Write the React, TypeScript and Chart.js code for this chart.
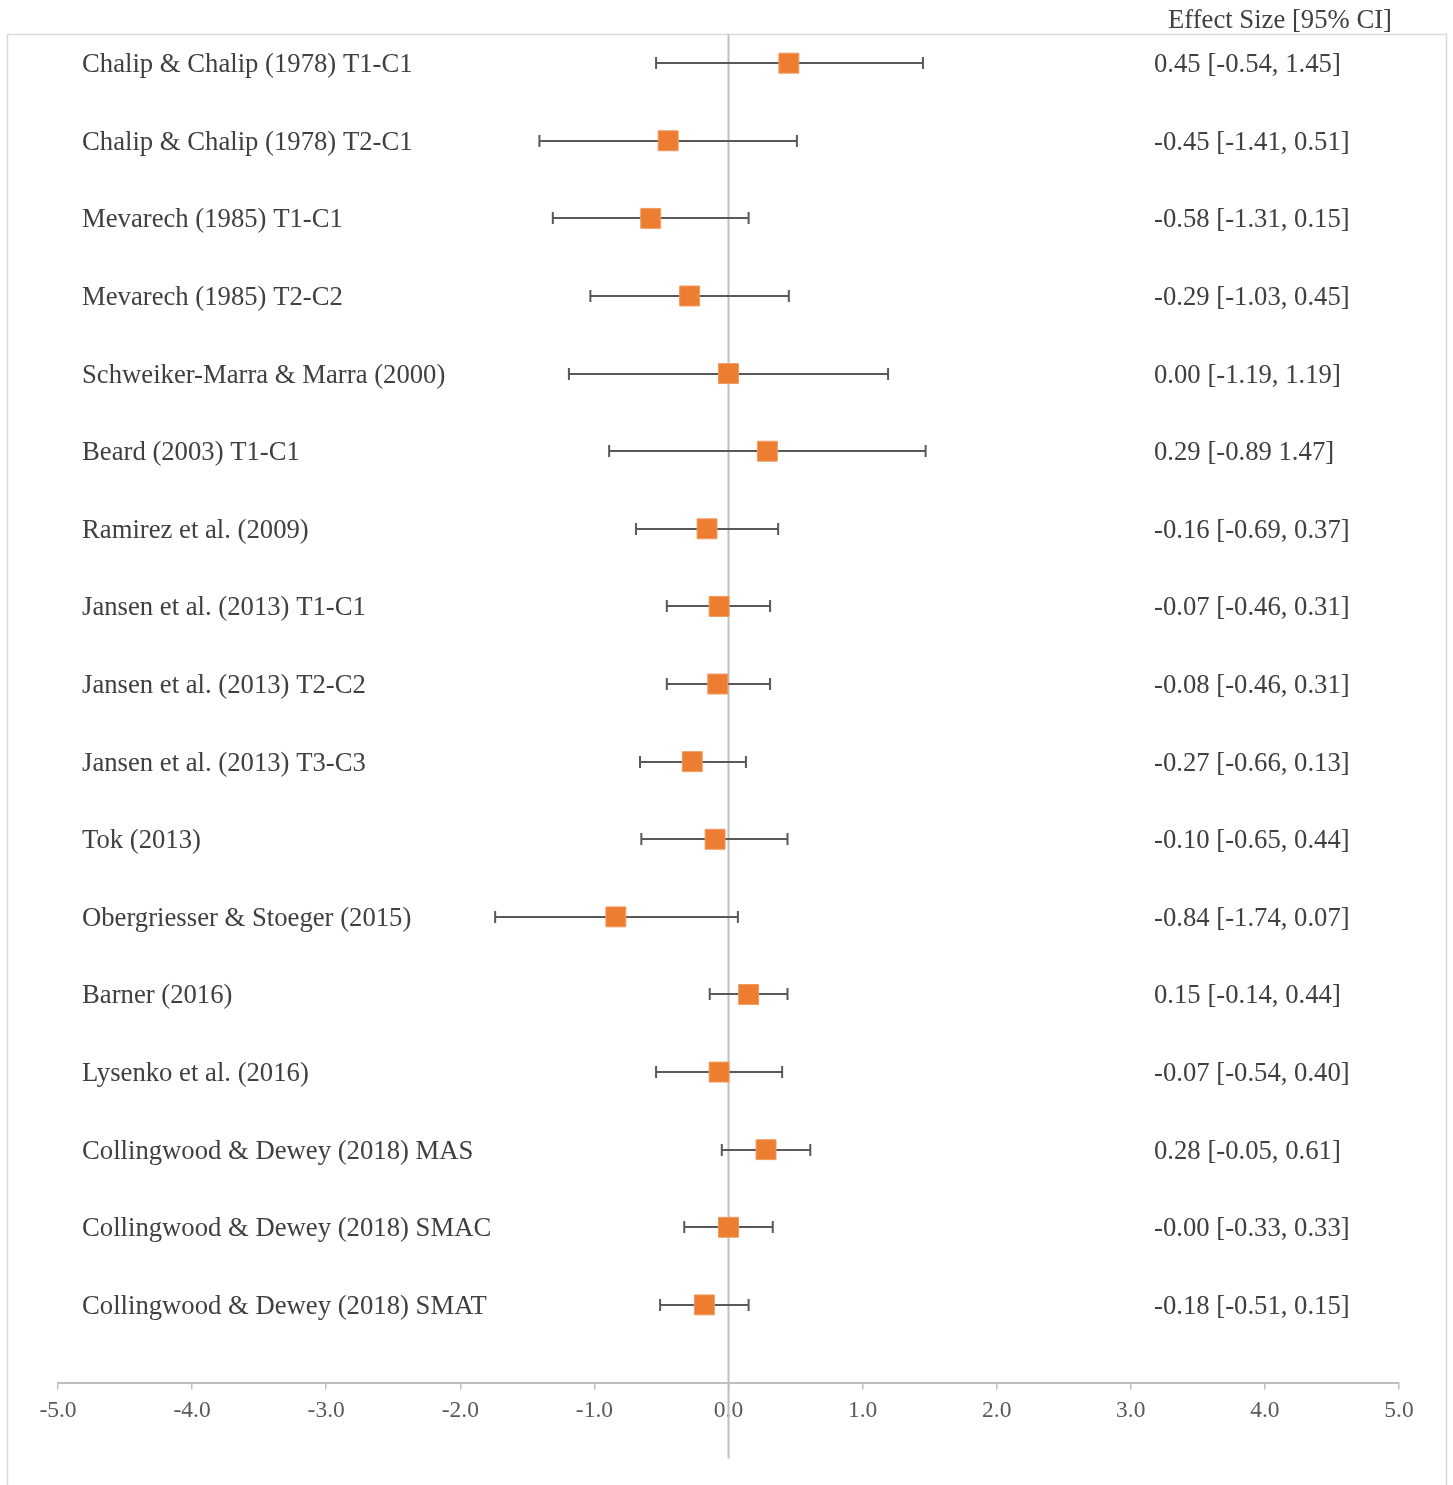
import React, { useEffect, useRef } from "react";
import { Chart, registerables } from "chart.js";

Chart.register(...registerables);

const studies: string[] = [
  "Chalip & Chalip (1978) T1-C1",
  "Chalip & Chalip (1978) T2-C1",
  "Mevarech (1985) T1-C1",
  "Mevarech (1985) T2-C2",
  "Schweiker-Marra & Marra (2000)",
  "Beard (2003) T1-C1",
  "Ramirez et al. (2009)",
  "Jansen et al. (2013) T1-C1",
  "Jansen et al. (2013) T2-C2",
  "Jansen et al. (2013) T3-C3",
  "Tok (2013)",
  "Obergriesser & Stoeger (2015)",
  "Barner (2016)",
  "Lysenko et al. (2016)",
  "Collingwood & Dewey (2018) MAS",
  "Collingwood & Dewey (2018) SMAC",
  "Collingwood & Dewey (2018) SMAT",
];

const effects: number[] = [0.45, -0.45, -0.58, -0.29, 0.0, 0.29, -0.16, -0.07, -0.08, -0.27, -0.1, -0.84, 0.15, -0.07, 0.28, -0.0, -0.18];
const lower: number[] = [-0.54, -1.41, -1.31, -1.03, -1.19, -0.89, -0.69, -0.46, -0.46, -0.66, -0.65, -1.74, -0.14, -0.54, -0.05, -0.33, -0.51];
const upper: number[] = [1.45, 0.51, 0.15, 0.45, 1.19, 1.47, 0.37, 0.31, 0.31, 0.13, 0.44, 0.07, 0.44, 0.4, 0.61, 0.33, 0.15];

const ciLabels: string[] = [
  "0.45 [-0.54, 1.45]",
  "-0.45 [-1.41, 0.51]",
  "-0.58 [-1.31, 0.15]",
  "-0.29 [-1.03, 0.45]",
  "0.00 [-1.19, 1.19]",
  "0.29 [-0.89 1.47]",
  "-0.16 [-0.69, 0.37]",
  "-0.07 [-0.46, 0.31]",
  "-0.08 [-0.46, 0.31]",
  "-0.27 [-0.66, 0.13]",
  "-0.10 [-0.65, 0.44]",
  "-0.84 [-1.74, 0.07]",
  "0.15 [-0.14, 0.44]",
  "-0.07 [-0.54, 0.40]",
  "0.28 [-0.05, 0.61]",
  "-0.00 [-0.33, 0.33]",
  "-0.18 [-0.51, 0.15]",
];

const headerLabel = "Effect Size [95% CI]";
const xTickValues: number[] = [-5, -4, -3, -2, -1, 0, 1, 2, 3, 4, 5];

const FONT = "'Liberation Serif', 'Times New Roman', serif";

export default function App() {
  const ref = useRef<HTMLCanvasElement | null>(null);

  useEffect(() => {
    if (!ref.current) return;
    const n = studies.length;
    const rowY = studies.map((_, i) => n - i);
    const yMax = 17.37;

    const forestPlugin = {
      id: "forest",
      beforeDraw(chart: any) {
        const ctx = chart.ctx;
        ctx.save();
        ctx.strokeStyle = "#d9d9d9";
        ctx.lineWidth = 1.5;
        ctx.strokeRect(7.5, 34.5, 1439, 1520);
        ctx.restore();
      },
      beforeDatasetDraw(chart: any, args: any) {
        if (args.index !== 1) return;
        const ctx = chart.ctx;
        const xs = chart.scales.x;
        const ys = chart.scales.y;
        ctx.save();
        ctx.strokeStyle = "#595959";
        ctx.lineWidth = 2;
        for (let i = 0; i < n; i++) {
          const y = Math.round(ys.getPixelForValue(rowY[i]));
          const x1 = xs.getPixelForValue(lower[i]);
          const x2 = xs.getPixelForValue(upper[i]);
          ctx.beginPath();
          ctx.moveTo(x1, y);
          ctx.lineTo(x2, y);
          ctx.moveTo(x1, y - 6);
          ctx.lineTo(x1, y + 6);
          ctx.moveTo(x2, y - 6);
          ctx.lineTo(x2, y + 6);
          ctx.stroke();
        }
        ctx.restore();
      },
      afterDraw(chart: any) {
        const ctx = chart.ctx;
        const ys = chart.scales.y;
        ctx.save();
        ctx.font = `26.7px ${FONT}`;
        ctx.fillStyle = "#404040";
        ctx.textBaseline = "middle";
        ctx.textAlign = "left";
        for (let i = 0; i < n; i++) {
          const y = ys.getPixelForValue(rowY[i]);
          ctx.fillText(studies[i], 82, y + 2);
          ctx.fillText(ciLabels[i], 1154, y + 2);
        }
        ctx.textAlign = "right";
        ctx.fillText(headerLabel, 1392, 21);
        ctx.restore();
      },
    };

    const chart = new Chart(ref.current, {
      type: "scatter",
      data: {
        datasets: [
          {
            type: "line",
            label: "zero",
            data: [
              { x: 0, y: -0.98 },
              { x: 0, y: yMax },
            ],
            borderColor: "#bfbfbf",
            borderWidth: 2,
            pointRadius: 0,
            clip: false as any,
            order: 2,
          } as any,
          {
            type: "scatter",
            label: "effect",
            data: effects.map((e, i) => ({ x: e, y: rowY[i] })),
            backgroundColor: "#ED7D31",
            borderColor: "#F19A5E",
            borderWidth: 1,
            pointStyle: "rect",
            pointRadius: 14.1,
            order: 1,
          } as any,
        ],
      },
      options: {
        animation: false,
        responsive: true,
        maintainAspectRatio: false,
        layout: { padding: { left: 58, right: 54, top: 36, bottom: 0 } },
        plugins: {
          legend: { display: false },
          tooltip: { enabled: false },
          title: { display: false },
        },
        scales: {
          x: {
            type: "linear",
            min: -5,
            max: 5,
            afterBuildTicks: (scale: any) => {
              scale.ticks = xTickValues.map((v) => ({ value: v }));
            },
            afterFit: (scale: any) => {
              scale.height = 102.5;
            },
            grid: {
              drawOnChartArea: false,
              drawTicks: true,
              tickLength: 7,
              color: "#bfbfbf",
              lineWidth: 1.5,
            },
            border: { display: true, color: "#bfbfbf", width: 2 },
            ticks: {
              color: "#595959",
              font: { family: FONT, size: 23.5 },
              padding: 7,
              maxRotation: 0,
              autoSkip: false,
              callback: (v: any) => Number(v).toFixed(1),
            },
          },
          y: {
            type: "linear",
            min: 0,
            max: 17.35,
            display: false,
          },
        },
      },
      plugins: [forestPlugin],
    });

    return () => chart.destroy();
  }, []);

  return (
    <div style={{ position: "absolute", left: 0, top: 0, width: 1453, height: 1485 }}>
      <canvas ref={ref} />
    </div>
  );
}
